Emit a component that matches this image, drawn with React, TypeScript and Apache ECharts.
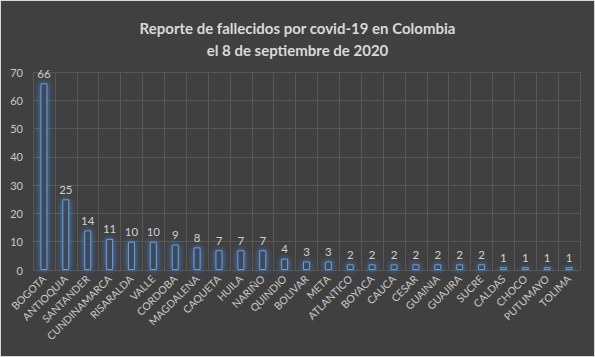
import React, { useEffect, useRef } from "react";
import * as echarts from "echarts";

const categories = ["BOGOTA","ANTIOQUIA","SANTANDER","CUNDINAMARCA","RISARALDA","VALLE","CORDOBA","MAGDALENA","CAQUETA","HUILA","NARIÑO","QUINDIO","BOLIVAR","META","ATLANTICO","BOYACA","CAUCA","CESAR","GUAINIA","GUAJIRA","SUCRE","CALDAS","CHOCO","PUTUMAYO","TOLIMA"];
const deaths = [66,25,14,11,10,10,9,8,7,7,7,4,3,3,2,2,2,2,2,2,2,1,1,1,1];
const yTicks = [0,10,20,30,40,50,60,70];

export default function App() {
  const ref = useRef<HTMLDivElement>(null);
  useEffect(() => {
    const chart = echarts.init(ref.current!, null, { renderer: "svg" });
    chart.setOption({
      animation: false,
      backgroundColor: "#404040",
      textStyle: { fontFamily: "Lato" },
      title: {
        text: "Reporte de fallecidos por covid-19 en Colombia\nel 8 de septiembre de 2020",
        left: "center",
        top: 11,
        textStyle: { color: "#d9d9d9", fontSize: 15, fontWeight: "bold", lineHeight: 22, fontFamily: "Lato" },
      },
      grid: { left: 32, right: 14, top: 71, bottom: 86 },
      xAxis: {
        type: "category",
        data: categories,
        axisLine: { show: false },
        axisTick: { show: false },
        splitLine: { show: true, lineStyle: { color: "#575757", width: 1 } },
        axisLabel: { rotate: 45, color: "#c8c8c8", fontSize: 10.5, interval: 0, margin: 7 },
      },
      yAxis: {
        type: "value",
        min: yTicks[0],
        max: yTicks[yTicks.length - 1],
        interval: 10,
        axisLine: { show: false },
        axisTick: { show: false },
        splitLine: { lineStyle: { color: "#575757", width: 1 } },
        axisLabel: { color: "#c8c8c8", fontSize: 11, margin: 10 },
      },
      series: [
        {
          type: "bar",
          data: deaths,
          barWidth: 7,
          itemStyle: {
            color: "#3e4a5a",
            borderColor: "#6a9ed8",
            borderWidth: 1,
            shadowColor: "rgba(70,140,230,0.9)",
            shadowBlur: 6,
          },
          label: { show: true, position: "top", color: "#d0d0d0", fontSize: 11.5, distance: 4 },
        },
      ],
    });
    return () => chart.dispose();
  }, []);
  return (
    <div style={{ position: "fixed", left: 0, top: 0, width: 595, height: 357, border: "1px solid #d9d9d9", boxSizing: "border-box", background: "#404040" }}>
      <div ref={ref} style={{ width: 593, height: 355 }} />
    </div>
  );
}
